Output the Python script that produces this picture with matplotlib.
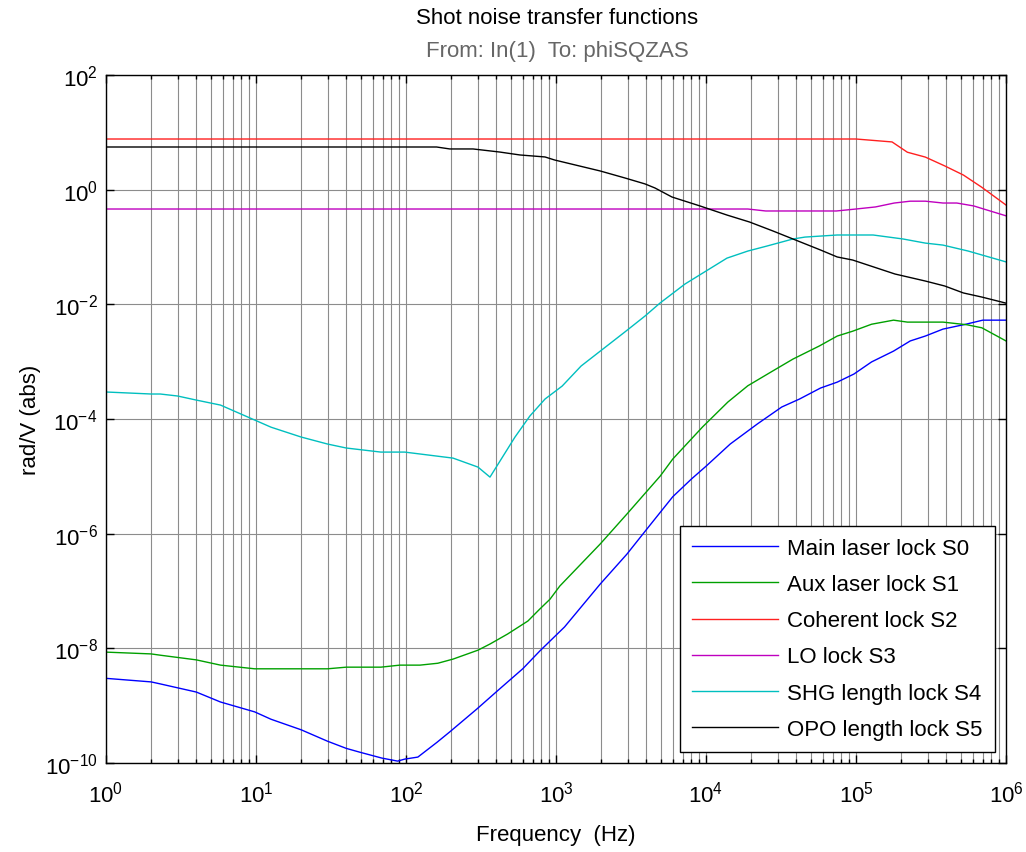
import numpy as np
import matplotlib
matplotlib.use("Agg")
import matplotlib.pyplot as plt
from matplotlib.ticker import FuncFormatter, NullFormatter, NullLocator, FixedLocator

plt.rcParams['font.family'] = ['Liberation Sans', 'DejaVu Sans']
plt.rcParams['mathtext.fontset'] = 'custom'
plt.rcParams['mathtext.rm'] = 'Liberation Sans'

# data (frequency in Hz, magnitude in rad/V)
f_s0 = [1, 2, 2.3, 4, 5.8, 9.8, 12.6, 20, 30, 40, 49, 69, 88, 98, 120, 161, 196, 296, 420, 600,
        780, 1140, 1970, 2970, 4030, 6000, 8000, 1e4, 1.45e4, 2.2e4, 3.2e4, 4.2e4, 5.8e4, 7.5e4,
        9.7e4, 1.27e5, 1.78e5, 2.3e5, 2.9e5, 3.8e5, 5.4e5, 7e5, 1e6]
s0 = [3.0e-9, 2.6e-9, 2.4e-9, 1.73e-9, 1.16e-9, 7.8e-10, 5.8e-10, 3.8e-10, 2.4e-10, 1.8e-10,
      1.55e-10, 1.22e-10, 1.08e-10, 1.17e-10, 1.27e-10, 2.3e-10, 3.5e-10, 8.7e-10, 1.95e-9, 4.4e-9,
      9.0e-9, 2.36e-8, 1.32e-7, 4.4e-7, 1.2e-6, 4.4e-6, 9.0e-6, 1.5e-5, 3.66e-5, 8.2e-5, 1.62e-4,
      2.23e-4, 3.47e-4, 4.4e-4, 6.1e-4, 9.9e-4, 1.53e-3, 2.3e-3, 2.8e-3, 3.7e-3, 4.5e-3, 5.3e-3, 5.3e-3]

f_s1 = [1, 2, 2.3, 4, 5.8, 9.8, 30, 40, 68, 91, 124, 163, 206, 302, 363, 476, 650, 780, 912, 1060,
        1970, 2970, 4950, 6000, 8000, 9500, 1.4e4, 1.9e4, 2.79e4, 3.8e4, 5.7e4, 7.5e4, 9.5e4,
        1.27e5, 1.78e5, 2.2e5, 3.8e5, 5.5e5, 6.9e5, 1e6]
s1 = [8.6e-9, 8.0e-9, 7.6e-9, 6.3e-9, 5.1e-9, 4.4e-9, 4.4e-9, 4.7e-9, 4.7e-9, 5.1e-9, 5.1e-9,
      5.5e-9, 6.5e-9, 9.3e-9, 1.19e-8, 1.78e-8, 3.0e-8, 4.85e-8, 7.2e-8, 1.22e-7, 6.6e-7, 2.2e-6,
      1.01e-5, 2.0e-5, 4.5e-5, 7.3e-5, 1.98e-4, 3.8e-4, 6.9e-4, 1.11e-3, 1.88e-3, 2.8e-3, 3.4e-3,
      4.5e-3, 5.3e-3, 4.9e-3, 4.9e-3, 4.4e-3, 3.9e-3, 2.3e-3]

f_s2 = [1, 1e5, 1.74e5, 2.2e5, 2.9e5, 3.9e5, 5.2e5, 6.9e5, 1e6]
s2 = [7.65, 7.65, 6.8, 4.5, 3.7, 2.6, 1.8, 1.1, 0.54]

f_s3 = [1, 1.9e4, 2.5e4, 7.4e4, 1e5, 1.35e5, 1.8e5, 2.3e5, 2.9e5, 3.8e5, 4.7e5, 6.1e5, 7.1e5, 1e6]
s3 = [0.46, 0.46, 0.425, 0.425, 0.46, 0.50, 0.585, 0.63, 0.63, 0.585, 0.585, 0.52, 0.46, 0.35]

f_s4 = [1, 2, 2.3, 3, 4, 5.8, 9.8, 12.6, 20, 30, 40, 68, 98, 206, 302, 363, 533, 670, 845, 1100,
        1470, 2880, 3920, 4930, 7240, 1.38e4, 1.9e4, 2.55e4, 3.8e4, 4.57e4, 7.5e4, 1.3e5, 2.06e5,
        2.9e5, 3.8e5, 5.6e5, 1e6]
s4 = [2.96e-4, 2.73e-4, 2.73e-4, 2.52e-4, 2.14e-4, 1.75e-4, 9.6e-5, 7.2e-5, 4.85e-5, 3.66e-5,
      3.12e-5, 2.65e-5, 2.65e-5, 2.08e-5, 1.45e-5, 9.7e-6, 4.85e-5, 1.13e-4, 2.23e-4, 3.76e-4,
      8.4e-4, 3.3e-3, 6.25e-3, 1.05e-2, 2.26e-2, 6.4e-2, 8.5e-2, 0.104, 0.138, 0.149, 0.162, 0.162,
      0.138, 0.117, 0.108, 0.085, 0.055]

f_s5 = [1, 160, 196, 280, 420, 575, 845, 980, 1970, 2880, 3920, 4570, 5930, 9120, 1.38e4, 1.95e4,
        2.8e4, 3.8e4, 5.8e4, 7.5e4, 9.5e4, 1.82e5, 2.9e5, 3.9e5, 5.2e5, 6.9e5, 1e6]
s5 = [5.55, 5.55, 5.13, 5.13, 4.54, 4.03, 3.72, 3.29, 2.12, 1.60, 1.26, 1.07, 0.745, 0.52, 0.361,
      0.273, 0.190, 0.138, 0.0887, 0.067, 0.0593, 0.0338, 0.0255, 0.0209, 0.0158, 0.0134, 0.0105]

labels = ['Main laser lock S0', 'Aux laser lock S1', 'Coherent lock S2',
          'LO lock S3', 'SHG length lock S4', 'OPO length lock S5']
colors = ['#0000ff', '#00a000', '#ff2020', '#bf00bf', '#00bfbf', '#000000']
series = [(f_s0, s0), (f_s1, s1), (f_s2, s2), (f_s3, s3), (f_s4, s4), (f_s5, s5)]
x_ticks = [1e0, 1e1, 1e2, 1e3, 1e4, 1e5, 1e6]
y_ticks = [1e-10, 1e-8, 1e-6, 1e-4, 1e-2, 1e0, 1e2]

fig = plt.figure(figsize=(10.26, 8.53), dpi=100)
ax = fig.add_axes([0.1033, 0.1043, 0.8772, 0.8066])

for (f, s), lab, col in zip(series, labels, colors):
    ax.plot(f, s, color=col, lw=1.0, label=lab)

ax.set_xscale('log')
ax.set_yscale('log')
ax.set_xlim(1, 1e6)
ax.set_ylim(1e-10, 1e2)

pow_fmt = FuncFormatter(lambda v, p: r'$\mathdefault{10^{%d}}$' % round(np.log10(v)))
minor_x = [m * d for d in x_ticks[:-1] for m in range(2, 10)]
ax.xaxis.set_major_locator(FixedLocator(x_ticks))
ax.xaxis.set_minor_locator(FixedLocator(minor_x))
ax.xaxis.set_major_formatter(pow_fmt)
ax.xaxis.set_minor_formatter(NullFormatter())
ax.yaxis.set_major_locator(FixedLocator(y_ticks))
ax.yaxis.set_major_formatter(pow_fmt)
ax.yaxis.set_minor_locator(NullLocator())

ax.grid(True, which='both', axis='x', color='0.55', lw=0.8)
ax.grid(True, which='major', axis='y', color='0.55', lw=0.8)
ax.set_axisbelow(True)

ax.tick_params(which='both', direction='in', top=True, right=True, labelsize=16)
ax.tick_params(axis='x', which='major', pad=13)
ax.tick_params(axis='y', which='major', pad=6)
ax.tick_params(which='major', length=6, width=1)
ax.tick_params(which='minor', length=3, width=1)
for sp in ax.spines.values():
    sp.set_linewidth(1.0)

ax.set_xlabel('Frequency  (Hz)', fontsize=16, labelpad=12)
ax.set_ylabel('rad/V (abs)', fontsize=16, labelpad=3)

fig.text(0.5428, 0.978, 'Shot noise transfer functions', ha='center', va='center', fontsize=16)
fig.text(0.5428, 0.940, 'From: In(1)  To: phiSQZAS', ha='center', va='center',
         fontsize=16, color='0.4')

leg = ax.legend(loc='lower right', fontsize=16, frameon=True, fancybox=False,
                edgecolor='black', framealpha=1, borderaxespad=0.5,
                handlelength=3.9, handletextpad=0.4, labelspacing=0.68, borderpad=0.55)
leg.get_frame().set_linewidth(1.0)

fig.savefig('out.png', dpi=100)
